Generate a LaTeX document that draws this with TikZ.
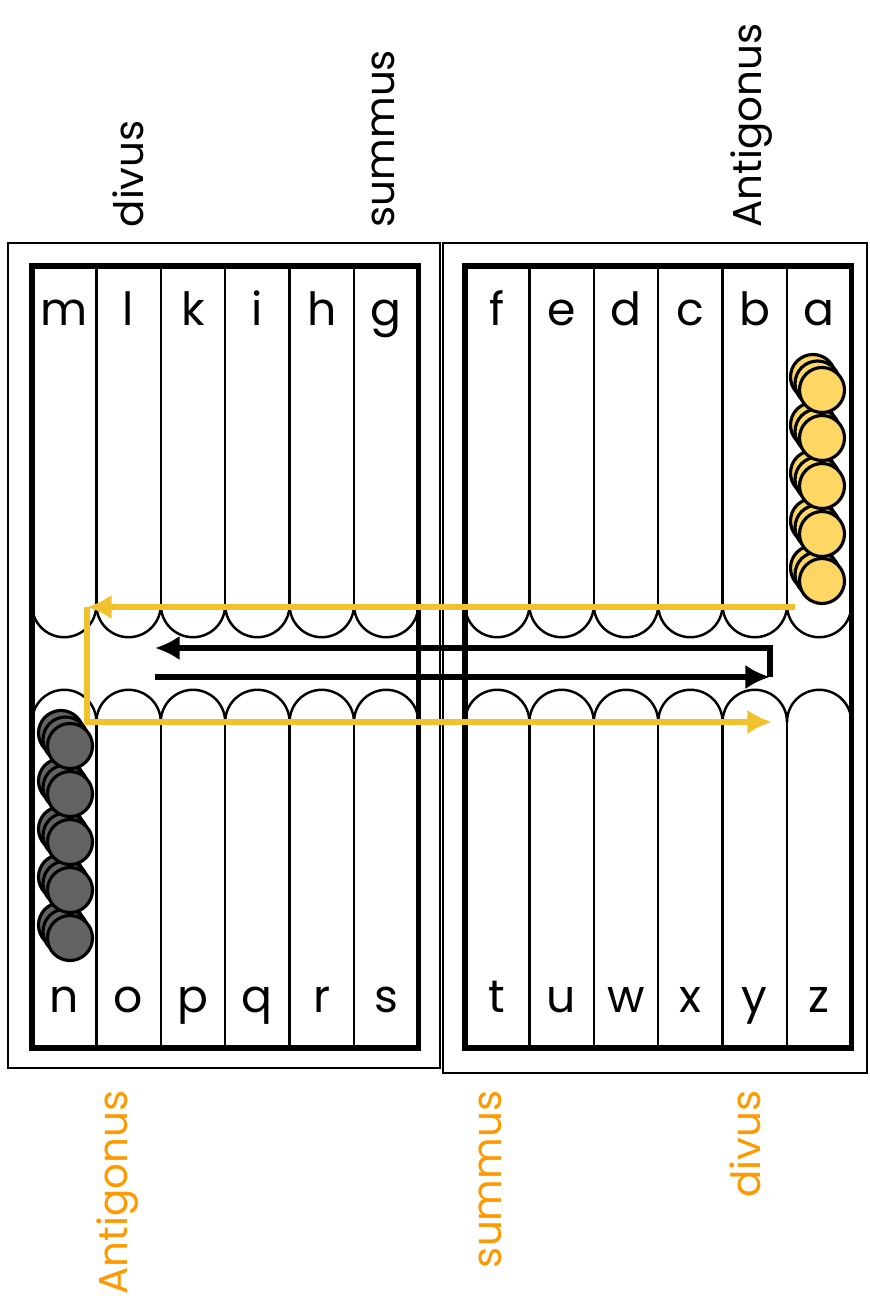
\documentclass[tikz,border=0pt]{standalone}
\usepackage{fontspec}
\setmainfont{Poppins}
\usetikzlibrary{arrows.meta}
\definecolor{checkeryellow}{HTML}{FDD663}
\definecolor{pathyellow}{HTML}{F2C12E}
\definecolor{checkergrey}{HTML}{636363}
\definecolor{labelorange}{HTML}{FF9900}
\tikzset{
  board/.style={line width=0.8pt},
  tray/.style={line width=1.5pt},
  rib/.style={line width=0.7pt},
  pointlabel/.style={anchor=base, inner sep=0pt, font=\fontsize{13}{15}\selectfont},
  sidelabel/.style={rotate=90, inner sep=0pt, font=\fontsize{11.5}{14}\selectfont},
  yellowman/.style={fill=checkeryellow, draw=black, line width=0.9pt},
  blackman/.style={fill=checkergrey, draw=black, line width=0.9pt},
  goldpath/.style={draw=pathyellow, line width=1.5pt},
  blackpath/.style={draw=black, line width=1.5pt},
}
\begin{document}
\begin{tikzpicture}[x=0.01cm, y=-0.01cm, >={Latex[length=7pt,width=7pt]}]
  \useasboundingbox (0,0) rectangle (870,1309);
  \draw[board] (8,243) rectangle (440,1068);
  \draw[board] (443,243) rectangle (867,1073);
  \foreach \tx in {32,465} {
    \foreach \k in {1,...,5}
      \draw[rib] (\tx+\k*64.4,266) -- (\tx+\k*64.4,605)
                 (\tx+\k*64.4,722) -- (\tx+\k*64.4,1048);
    \foreach \k in {0,...,5}
      \draw[rib] (\tx+\k*64.4,605) arc[start angle=180, end angle=0, radius=32.2]
                 (\tx+\k*64.4,722) arc[start angle=180, end angle=360, radius=32.2];
    \draw[tray] (\tx,266) rectangle (\tx+386.4,1048);
  }
  \foreach \ltr [count=\k from 0] in {m,l,k,i,h,g}
    \node[pointlabel] (pt-\ltr) at (64.2+\k*64.4,325) {\ltr};
  \foreach \ltr [count=\k from 0] in {f,e,d,c,b,a}
    \node[pointlabel] (pt-\ltr) at (497.2+\k*64.4,325) {\ltr};
  \foreach \ltr [count=\k from 0] in {n,o,p,q,r,s}
    \node[pointlabel] (pt-\ltr) at (64.2+\k*64.4,1012) {\ltr};
  \foreach \ltr [count=\k from 0] in {t,u,w,x,y,z}
    \node[pointlabel] (pt-\ltr) at (497.2+\k*64.4,1012) {\ltr};
  \foreach \dx/\dy in {9/13,4.5/6.5,0/0} {
    \foreach \cy in {390,438,486,534,581}
      \draw[yellowman] (822-\dx,\cy-\dy) circle[radius=22.5];
    \foreach \cy in {746,794,842,890,938}
      \draw[blackman] (70-\dx,\cy-\dy) circle[radius=22.5];
  }
  \coordinate (goldstart) at (795,607);
  \coordinate (goldturn) at (87,607);
  \coordinate (goldend) at (772,722);
  \draw[goldpath,->] (goldstart) -- (goldturn);
  \draw[goldpath,->] (goldturn) |- (goldend);
  \coordinate (runstart) at (155,677);
  \coordinate (runturn) at (770,677);
  \coordinate (runback) at (155,648);
  \draw[blackpath,->] (runstart) -- (runturn);
  \draw[blackpath,->] (runturn) |- (runback);
  \node[sidelabel, anchor=west] (top-divus) at (128,228) {divus};
  \node[sidelabel, anchor=west] (top-summus) at (383,228) {summus};
  \node[sidelabel, anchor=west] (top-antigonus) at (752,228) {Antigonus};
  \node[sidelabel, anchor=east, text=labelorange] (low-antigonus) at (118,1090) {Antigonus};
  \node[sidelabel, anchor=east, text=labelorange] (low-summus) at (490,1090) {summus};
  \node[sidelabel, anchor=east, text=labelorange] (low-divus) at (745,1090) {divus};
\end{tikzpicture}
\end{document}
